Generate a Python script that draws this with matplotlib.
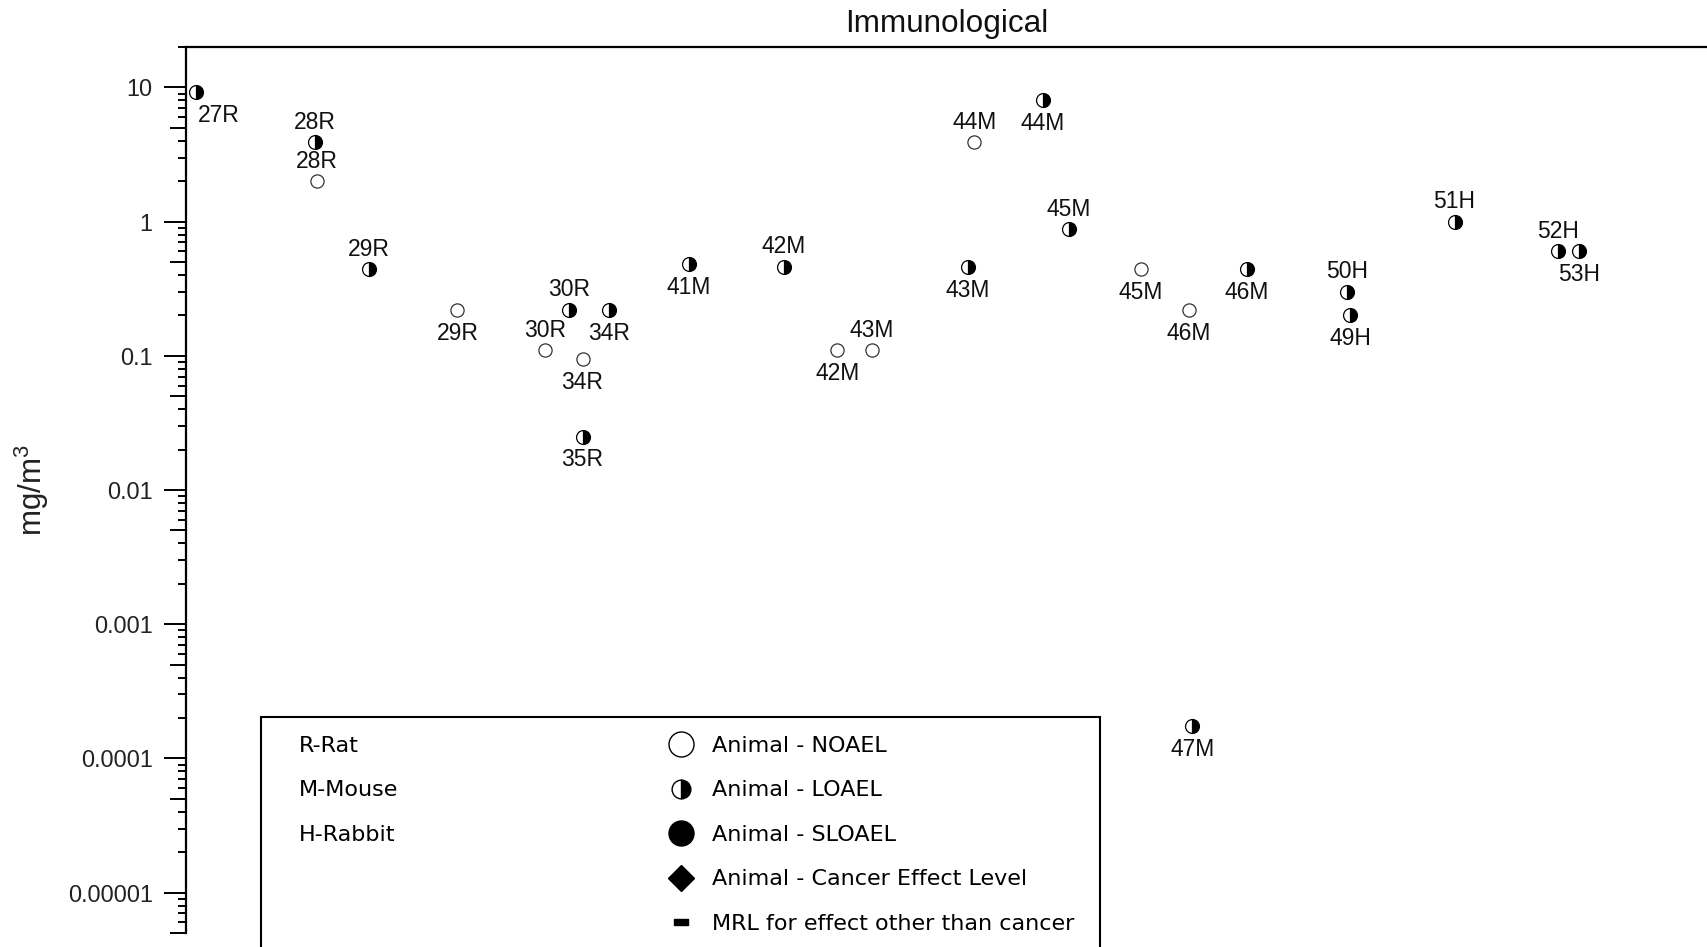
import numpy as np
import matplotlib
matplotlib.use('Agg')
import matplotlib.pyplot as plt
from matplotlib.lines import Line2D
from matplotlib.path import Path
from matplotlib.patches import Rectangle
from matplotlib.ticker import LogLocator, NullFormatter

plt.rcParams['font.family'] = ['Liberation Sans', 'DejaVu Sans']
plt.rcParams['mathtext.fontset'] = 'custom'
plt.rcParams['mathtext.rm'] = 'Liberation Sans'

# --- data ---
study = ['27R', '28R', '28R', '29R', '29R', '30R', '30R', '34R', '34R', '35R',
         '41M', '42M', '42M', '43M', '44M', '44M', '43M', '45M', '45M', '46M',
         '46M', '47M', '50H', '49H', '51H', '52H', '53H']
x_pos = [0.66, 8.46, 8.60, 12.04, 17.84, 25.21, 23.63, 27.78, 26.07, 26.07,
         33.08, 39.31, 42.81, 45.10, 51.83, 56.34, 51.41, 58.06, 62.79, 69.73,
         65.93, 66.15, 76.31, 76.53, 83.40, 90.20, 91.56]
dose = [9.3, 3.9, 2.0, 0.44, 0.22, 0.22, 0.11, 0.218, 0.095, 0.025,
        0.48, 0.46, 0.11, 0.11, 3.9, 8.1, 0.46, 0.88, 0.44, 0.44,
        0.22, 0.000174, 0.30, 0.20, 1.0, 0.60, 0.60]
effect = ['LOAEL', 'LOAEL', 'NOAEL', 'LOAEL', 'NOAEL', 'LOAEL', 'NOAEL', 'LOAEL', 'NOAEL', 'LOAEL',
          'LOAEL', 'LOAEL', 'NOAEL', 'NOAEL', 'NOAEL', 'LOAEL', 'LOAEL', 'LOAEL', 'NOAEL', 'LOAEL',
          'NOAEL', 'LOAEL', 'LOAEL', 'LOAEL', 'LOAEL', 'LOAEL', 'LOAEL']
label_side = ['right', 'above', 'above', 'above', 'below', 'above', 'above', 'below', 'below', 'below',
              'below', 'above', 'below', 'above', 'above', 'below', 'below', 'above', 'below', 'below',
              'below', 'below', 'above', 'below', 'above', 'above', 'below']

tick_vals = [1e-5, 1e-4, 1e-3, 1e-2, 1e-1, 1, 10]
tick_labels = ['0.00001', '0.0001', '0.001', '0.01', '0.1', '1', '10']
five_ticks = [5e-6, 5e-5, 5e-4, 5e-3, 5e-2, 0.5, 5]

species_labels = ['R-Rat', 'M-Mouse', 'H-Rabbit']
effect_labels = ['Animal - NOAEL', 'Animal - LOAEL', 'Animal - SLOAEL',
                 'Animal - Cancer Effect Level', 'MRL for effect other than cancer']

W, H = 1707, 947
fig = plt.figure(figsize=(W / 100, H / 100), dpi=100)
ax = fig.add_axes([186 / W, 1 - 933 / H, 1 - 186 / W, (933 - 47) / H])

x_pos = np.array(x_pos)
dose = np.array(dose)
effect = np.array(effect)

noael = effect == 'NOAEL'
loael = effect == 'LOAEL'
ax.plot(x_pos[noael], dose[noael], 'o', ms=9.5, mfc='white', mec='#333333', mew=0.9, ls='none')
ax.plot(x_pos[loael], dose[loael], 'o', ms=10, fillstyle='right', mfc='black',
        markerfacecoloralt='white', mec='black', mew=0.9, ls='none')

offsets = {'above': (0, 14.3), 'below': (0, -16.8), 'right': (16, -17.3)}
for lab, xx, yy, side in zip(study, x_pos, dose, label_side):
    ax.annotate(lab, (xx, yy), xytext=offsets[side], textcoords='offset points',
                ha='center', va='center', fontsize=16.5, color='#111111')

ax.set_yscale('log')
ax.set_ylim(5e-6, 20)
ax.set_xlim(0, 100)
ax.set_yticks(tick_vals, labels=tick_labels)
ax.yaxis.set_minor_locator(LogLocator(base=10, subs=(2, 3, 4, 6, 7, 8, 9), numticks=30))
ax.yaxis.set_minor_formatter(NullFormatter())
ax.tick_params(axis='y', which='major', length=16, width=1.4, pad=8,
               labelsize=16.8, labelcolor='#222222')
ax.tick_params(axis='y', which='minor', length=6, width=1.4)
ax.set_xticks([])
for s in ['right', 'bottom']:
    ax.spines[s].set_visible(False)
for s in ['left', 'top']:
    ax.spines[s].set_linewidth(1.6)

# medium ticks at the 5s
sec = ax.secondary_yaxis('left')
sec.set_yticks(five_ticks, labels=[''] * len(five_ticks))
sec.tick_params(which='major', length=11.5, width=1.4)
sec.tick_params(which='minor', length=0)
sec.spines['left'].set_visible(False)

ax.set_title('Immunological', fontsize=22.7, pad=11, color='#111111')
ax.set_ylabel('mg/m$^3$', fontsize=22.5, color='#222222')
ax.yaxis.set_label_coords(-0.089, 0.5)

# --- legend ---
box = Rectangle((261 / W, -0.1), (1100 - 261) / W, 1 - 717 / H + 0.1,
                transform=fig.transFigure, fill=False, ec='black', lw=1.5, clip_on=False)
fig.add_artist(box)

legprop = {'family': 'DejaVu Sans', 'size': 16}
blank = [Line2D([], [], ls='none') for _ in species_labels]
leg1 = ax.legend(blank, species_labels, loc='upper left',
                 bbox_to_anchor=(299 / W, 1 - 736 / H), bbox_transform=fig.transFigure,
                 frameon=False, borderpad=0, borderaxespad=0, handlelength=0,
                 handletextpad=0, labelspacing=1.1, prop=legprop)
ax.add_artist(leg1)

rect_marker = Path([(-1, -0.45), (1, -0.45), (1, 0.45), (-1, 0.45), (-1, -0.45)], closed=True)
handles = [
    Line2D([], [], ls='none', marker='o', ms=18, mfc='white', mec='black', mew=1.0),
    Line2D([], [], ls='none', marker='o', ms=13.5, fillstyle='right', mfc='black',
           markerfacecoloralt='white', mec='black', mew=1.0),
    Line2D([], [], ls='none', marker='o', ms=18, color='black'),
    Line2D([], [], ls='none', marker='D', ms=13, color='black'),
    Line2D([], [], ls='none', marker=rect_marker, ms=9.5, color='black'),
]
ax.legend(handles, effect_labels, loc='upper left',
          bbox_to_anchor=(670 / W, 1 - 736 / H), bbox_transform=fig.transFigure,
          frameon=False, borderpad=0, borderaxespad=0, handlelength=1.0,
          handletextpad=0.9, labelspacing=1.1, prop=legprop)

fig.savefig('out.png', dpi=100)
